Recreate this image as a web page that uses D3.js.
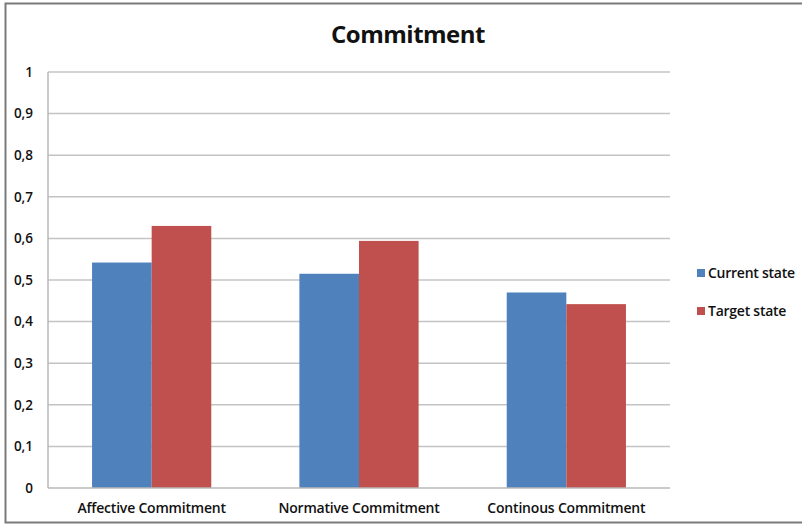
<!DOCTYPE html>
<html>
<head>
<meta charset="utf-8">
<script src="https://cdn.jsdelivr.net/npm/d3@7"></script>
<style>
  html, body { margin: 0; padding: 0; background: #fff; }
  svg { display: block; }
  text { font-family: "Open Sans", "Noto Sans", sans-serif; fill: #111; }
</style>
</head>
<body>
<svg id="chart" width="802" height="526"></svg>
<script>
const categories = ["Affective Commitment", "Normative Commitment", "Continous Commitment"];
const seriesNames = ["Current state", "Target state"];
const currentState = [0.542, 0.515, 0.470];
const targetState = [0.630, 0.594, 0.442];
const yTicks = [0, 0.1, 0.2, 0.3, 0.4, 0.5, 0.6, 0.7, 0.8, 0.9, 1];
const colors = ["#4f81bd", "#c0504d"];

const seriesValues = [currentState, targetState];
const svg = d3.select("#chart");

// Outer frame
svg.append("rect")
  .attr("x", 5.5).attr("y", 3.5)
  .attr("width", 810).attr("height", 519)
  .attr("fill", "none").attr("stroke", "#7a7a7a").attr("stroke-width", 2);

const plot = { left: 48, right: 670, top: 72, bottom: 488 };

const x = d3.scaleBand()
  .domain(categories)
  .range([plot.left, plot.right])
  .paddingInner(0.425)
  .paddingOuter(0.2125);

const xs = d3.scaleBand()
  .domain(seriesNames)
  .range([0, x.bandwidth()]);

const y = d3.scaleLinear().domain([0, 1]).range([plot.bottom, plot.top]);

// Horizontal grid lines
svg.append("g")
  .selectAll("line")
  .data(yTicks.filter(d => d > 0))
  .join("line")
  .attr("x1", plot.left).attr("x2", plot.right)
  .attr("y1", d => y(d)).attr("y2", d => y(d))
  .attr("stroke", "#c4c4c4").attr("stroke-width", 1.5);

// Bars
const groups = svg.append("g")
  .selectAll("g")
  .data(categories)
  .join("g")
  .attr("transform", d => `translate(${x(d)},0)`);

groups.selectAll("rect")
  .data((c, i) => seriesNames.map((s, j) => ({ s, v: seriesValues[j][i], j })))
  .join("rect")
  .attr("x", d => xs(d.s))
  .attr("width", xs.bandwidth())
  .attr("y", d => y(d.v))
  .attr("height", d => y(0) - y(d.v))
  .attr("fill", d => colors[d.j]);

// Axis lines
svg.append("line")
  .attr("x1", plot.left).attr("x2", plot.left)
  .attr("y1", plot.top).attr("y2", plot.bottom)
  .attr("stroke", "#b8b8b8").attr("stroke-width", 1.5);
svg.append("line")
  .attr("x1", plot.left).attr("x2", plot.right)
  .attr("y1", plot.bottom).attr("y2", plot.bottom)
  .attr("stroke", "#b8b8b8").attr("stroke-width", 1.5);

// Y axis labels
const fmt = d => d3.format(".1~f")(d).replace(".", ",");
svg.append("g")
  .selectAll("text")
  .data(yTicks)
  .join("text")
  .attr("x", 33)
  .attr("y", d => y(d))
  .attr("dy", "0.35em")
  .attr("text-anchor", "end")
  .attr("font-size", 13.5)
  .attr("font-weight", 600)
  .text(fmt);

// X axis labels
svg.append("g")
  .selectAll("text")
  .data(categories)
  .join("text")
  .attr("x", d => x(d) + x.bandwidth() / 2)
  .attr("y", 513)
  .attr("text-anchor", "middle")
  .attr("font-size", 14)
  .attr("font-weight", 600)
  .attr("letter-spacing", -0.2)
  .text(d => d);

// Title
svg.append("text")
  .attr("x", 408).attr("y", 43)
  .attr("text-anchor", "middle")
  .attr("font-size", 24)
  .attr("font-weight", 700)
  .attr("letter-spacing", -0.5)
  .text("Commitment");

// Legend
const legend = svg.append("g")
  .selectAll("g")
  .data(seriesNames)
  .join("g")
  .attr("transform", (d, i) => `translate(697,${273 + i * 38})`);
legend.append("rect")
  .attr("x", 0).attr("y", -4)
  .attr("width", 8).attr("height", 8)
  .attr("fill", (d, i) => colors[i]);
legend.append("text")
  .attr("x", 11).attr("y", 0)
  .attr("dy", "0.35em")
  .attr("font-size", 14)
  .attr("font-weight", 600)
  .attr("letter-spacing", -0.25)
  .text(d => d);
</script>
</body>
</html>
